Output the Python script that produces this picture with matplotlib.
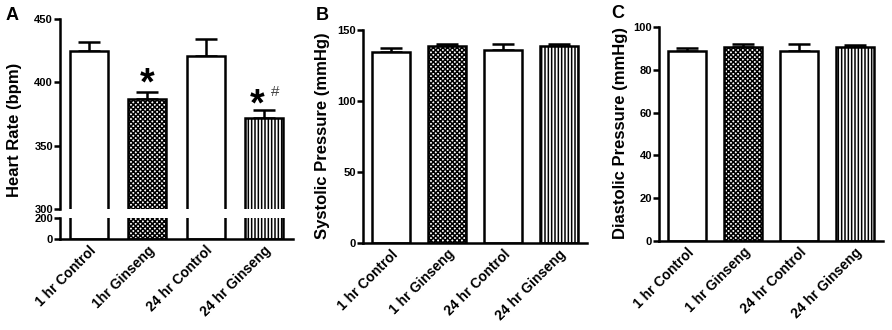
import numpy as np
import matplotlib
matplotlib.use("Agg")
import matplotlib.pyplot as plt

plt.rcParams['font.family'] = ['Liberation Sans', 'DejaVu Sans']
plt.rcParams['font.weight'] = 'bold'
plt.rcParams['hatch.linewidth'] = 1.1

W, H = 892, 330

groups_a = ["1 hr Control", "1hr Ginseng", "24 hr Control", "24 hr Ginseng"]
groups = ["1 hr Control", "1 hr Ginseng", "24 hr Control", "24 hr Ginseng"]

hr_mean = [425, 387, 421, 372]
hr_sem = [7, 5, 13, 6]
sys_mean = [134.7, 138.7, 136.0, 138.5]
sys_sem = [2.3, 1.3, 4.3, 1.5]
dia_mean = [88.6, 90.6, 89.0, 90.6]
dia_sem = [1.8, 1.4, 3.0, 0.9]

hatches = [None, 'xxxxxxx', None, '|||||']
LW = 1.8


def fig_rect(x0, y0, x1, y1):
    # pixel box (top-left origin) -> figure fraction
    return [x0 / W, 1 - y1 / H, (x1 - x0) / W, (y1 - y0) / H]


def draw_bars(ax, means, sems, width):
    x = np.arange(len(means))
    for i in range(len(means)):
        ax.bar(x[i], means[i], width=width, color='white', edgecolor='black',
               linewidth=LW, hatch=hatches[i], zorder=2)
    ax.errorbar(x, means, yerr=[np.zeros(len(sems)), sems], fmt='none',
                ecolor='black', elinewidth=LW, capsize=8, capthick=LW, zorder=1)
    ax.set_xlim(-0.5, 3.5)


def style(ax):
    for s in ['top', 'right']:
        ax.spines[s].set_visible(False)
    for s in ['left', 'bottom']:
        ax.spines[s].set_linewidth(LW)
    ax.tick_params(axis='y', direction='out', length=4, width=LW, labelsize=8, pad=1)
    ax.tick_params(axis='x', length=0, labelsize=10, pad=3)


fig = plt.figure(figsize=(W / 100, H / 100), dpi=100)

# Panel A with broken axis
ax_top = fig.add_axes(fig_rect(60, 19, 293, 209))
ax_bot = fig.add_axes(fig_rect(60, 218, 293, 239))
for ax in (ax_top, ax_bot):
    draw_bars(ax, hr_mean, hr_sem, 0.65)
    style(ax)
ax_top.set_ylim(300, 450)
ax_top.set_yticks([300, 350, 400, 450])
ax_top.spines['bottom'].set_visible(False)
ax_top.set_xticks([])
ax_bot.set_ylim(0, 200)
ax_bot.set_yticks([0, 200])
ax_bot.set_xticks(range(4))
ax_bot.set_xticklabels(groups_a, rotation=45, ha='right', rotation_mode='anchor')
ax_top.text(1, 398, '*', ha='center', va='center', fontsize=27)
ax_top.text(2.88, 382, '*', ha='center', va='center', fontsize=27)
ax_top.text(3.2, 392, '#', ha='center', va='center', fontsize=11,
            fontweight='normal', color='#444444')
fig.text(15 / W, 1 - 130 / H, 'Heart Rate (bpm)', rotation=90, ha='center',
         va='center', fontsize=12)
fig.text(12 / W, 1 - 15 / H, 'A', ha='center', va='center', fontsize=13)

# Panel B
ax_b = fig.add_axes(fig_rect(363, 30, 587, 243))
draw_bars(ax_b, sys_mean, sys_sem, 0.67)
style(ax_b)
ax_b.set_ylim(0, 150)
ax_b.set_yticks([0, 50, 100, 150])
ax_b.set_xticks(range(4))
ax_b.set_xticklabels(groups, rotation=45, ha='right', rotation_mode='anchor')
fig.text(323 / W, 1 - 136 / H, 'Systolic Pressure (mmHg)', rotation=90,
         ha='center', va='center', fontsize=12)
fig.text(322 / W, 1 - 16 / H, 'B', ha='center', va='center', fontsize=13)

# Panel C
ax_c = fig.add_axes(fig_rect(659, 27, 883, 241))
draw_bars(ax_c, dia_mean, dia_sem, 0.69)
style(ax_c)
ax_c.set_ylim(0, 100)
ax_c.set_yticks([0, 20, 40, 60, 80, 100])
ax_c.set_xticks(range(4))
ax_c.set_xticklabels(groups, rotation=45, ha='right', rotation_mode='anchor')
fig.text(621 / W, 1 - 133 / H, 'Diastolic Pressure (mmHg)', rotation=90,
         ha='center', va='center', fontsize=12)
fig.text(618 / W, 1 - 14 / H, 'C', ha='center', va='center', fontsize=13)

fig.savefig('out.png', dpi=100)
